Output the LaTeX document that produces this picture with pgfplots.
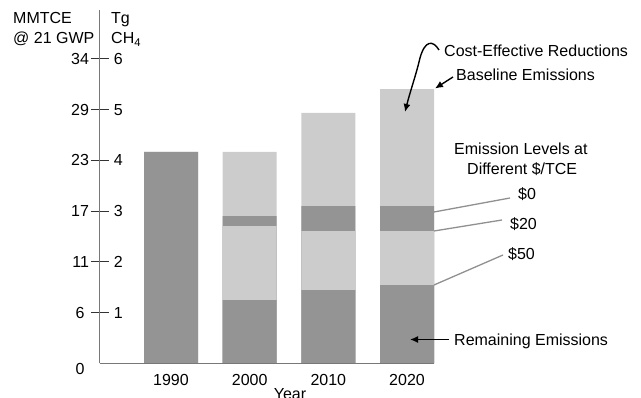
\documentclass[border=0pt]{standalone}
\usepackage{fontspec}
\setmainfont{Liberation Sans}
\usepackage{pgfplots}
\pgfplotsset{compat=1.18}
\usetikzlibrary{arrows.meta}
\definecolor{darkbar}{RGB}{148,148,148}
\definecolor{lightbar}{RGB}{204,204,204}
\definecolor{axgray}{RGB}{120,120,120}
\definecolor{linegray}{RGB}{144,144,144}
\begin{document}
\begin{tikzpicture}[font=\fontsize{16}{19}\selectfont]
\useasboundingbox (0,0) rectangle (641pt,398pt);
\begin{axis}[
  at={(100pt,34.6pt)}, anchor=south west,
  scale only axis, width=334pt, height=353.4pt,
  xmin=-0.9025, xmax=3.343, ymin=0, ymax=6.96,
  axis x line*=bottom, axis y line*=left,
  axis line style={draw=axgray, line width=1pt, -},
  xtick={0,1,2,3}, xticklabels={1990,2000,2010,2020},
  xtick style={draw=none},
  xticklabel style={yshift=11pt},
  ytick={1,2,3,4,5,6},
  yticklabels={{\llap{6\ }\hspace{25pt}\rlap{1}},{\llap{11}\hspace{25pt}\rlap{2}},{\llap{17}\hspace{25pt}\rlap{3}},{\llap{23}\hspace{25pt}\rlap{4}},{\llap{29}\hspace{25pt}\rlap{5}},{\llap{34}\hspace{25pt}\rlap{6}}},
  yticklabel style={anchor=center, inner sep=0pt, xshift=10.5pt},
  ytick style={draw=black!80, line width=0.9pt},
  tick align=center, major tick length=18pt,
  ybar, bar width=54pt,
  axis on top, clip=false,
  /pgf/number format/assume math mode=true,
]
% Baseline emissions
\addplot[fill=lightbar, draw=none, bar shift=0pt] coordinates {(0,4.167) (1,4.167) (2,4.935) (3,5.402)};
% Emission level at $0/TCE
\addplot[fill=darkbar, draw=none, bar shift=0pt] coordinates {(0,4.167) (1,2.902) (2,3.098) (3,3.098)};
% Emission level at $20/TCE
\addplot[fill=lightbar, draw=none, bar shift=0pt] coordinates {(1,2.705) (2,2.606) (3,2.606)};
% Emission level at $50/TCE (remaining emissions)
\addplot[fill=darkbar, draw=none, bar shift=0pt] coordinates {(1,1.248) (2,1.445) (3,1.543)};
\end{axis}
\begin{scope}[yshift=398pt, x=1pt, y=-1pt]
  \node[anchor=base west, inner sep=0pt] at (13,24) {MMTCE};
  \node[anchor=base west, inner sep=0pt] at (13,44) {@ 21 GWP};
  \node[anchor=base west, inner sep=0pt] at (111,24) {Tg};
  \node[anchor=base west, inner sep=0pt] at (111,44) {CH\textsubscript{4}};
  \node[inner sep=0pt] at (80,369) {0};
  \node[anchor=north, inner sep=0pt] at (290,388) {Year};
  \node[anchor=base west, inner sep=0pt] at (444,57) {Cost-Effective Reductions};
  \node[anchor=base west, inner sep=0pt] at (456,80.7) {Baseline Emissions};
  \node[anchor=base west, inner sep=0pt] at (454,155) {Emission Levels at};
  \node[anchor=base west, inner sep=0pt] at (467,175) {Different \$/TCE};
  \node[anchor=base west, inner sep=0pt] at (518,200) {\$0};
  \node[anchor=base west, inner sep=0pt] at (510,230) {\$20};
  \node[anchor=base west, inner sep=0pt] at (508,260) {\$50};
  \node[anchor=base west, inner sep=0pt] at (454,346) {Remaining Emissions};
  \draw[linegray, line width=1.3pt] (510,198) -- (434,212);
  \draw[linegray, line width=1.3pt] (502,220) -- (434,231);
  \draw[linegray, line width=1.3pt] (503,255) -- (434,285);
  \draw[black, line width=1.4pt, -{Latex[length=8pt,width=7pt]}] (453,77) -- (435,88.5);
  \draw[black, line width=1.4pt, -{Latex[length=8pt,width=7pt]}] (439,50) .. controls (433,40) and (425,40) .. (420,58) .. controls (416,75) and (410,92) .. (405,112);
  \draw[black, line width=1.4pt, -{Latex[length=8pt,width=7pt]}] (449,339.5) -- (410,339.5);
\end{scope}
\end{tikzpicture}
\end{document}
